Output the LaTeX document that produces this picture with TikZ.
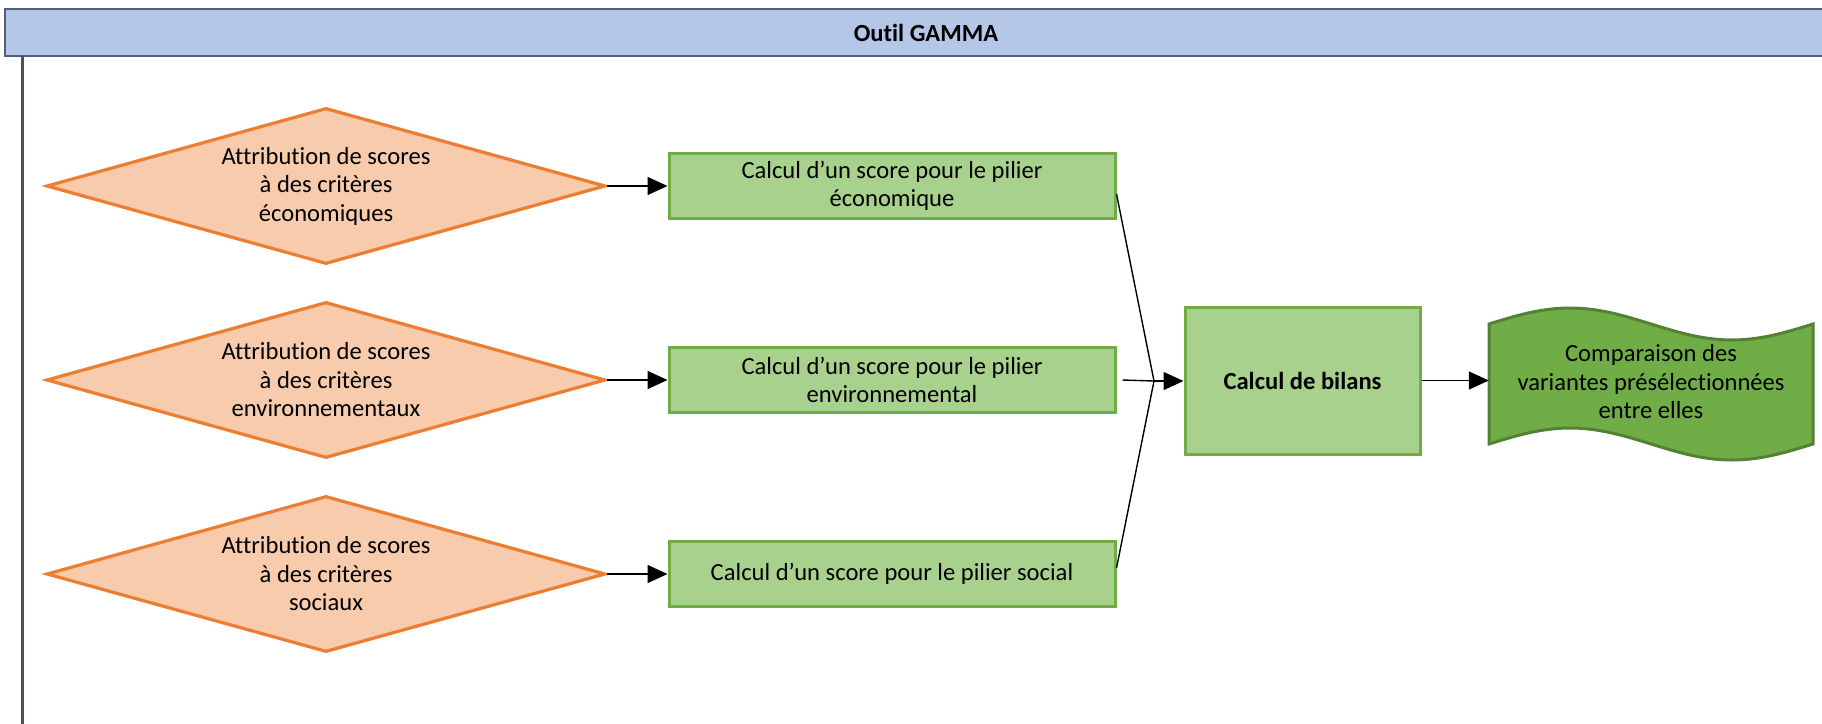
\documentclass[tikz,border=0pt]{standalone}
\usepackage{fontspec}
\setmainfont{Carlito}[Ligatures={NoCommon}]
\usetikzlibrary{shapes.geometric,arrows.meta}
\definecolor{hdrfill}{HTML}{B4C7E7}
\definecolor{hdrdraw}{HTML}{4F5F7F}
\definecolor{lanedraw}{HTML}{44546A}
\definecolor{orfill}{HTML}{F8CBAD}
\definecolor{ordraw}{HTML}{ED7D31}
\definecolor{grfill}{HTML}{A9D18E}
\definecolor{grdraw}{HTML}{70AD47}
\definecolor{dkfill}{HTML}{70AD47}
\definecolor{dkdraw}{HTML}{548235}
\tikzset{
  txt/.style={font=\fontsize{24.6pt}{28.5pt}\selectfont, align=center, text=black},
  crit/.style={txt, diamond, draw=ordraw, fill=orfill, line width=3.2pt, inner sep=0pt,
    shape aspect=3.58, minimum width=559pt, minimum height=156pt},
  pilier/.style={txt, rectangle, draw=grdraw, fill=grfill, line width=3pt,
    minimum width=446pt, minimum height=65pt, inner sep=0pt},
  bilan/.style={txt, rectangle, draw=grdraw, fill=grfill, line width=3pt,
    minimum width=235pt, minimum height=147pt, inner sep=0pt, font=\fontsize{24.6pt}{28.5pt}\selectfont\bfseries},
  conn/.style={line width=1.4pt, black},
  arr/.style={conn, -{Triangle[length=20pt,width=18pt]}},
}
\begin{document}
\begin{tikzpicture}[x=1pt,y=-1pt]
\useasboundingbox (0,0) rectangle (1822,723);
\fill[white] (0,0) rectangle (1822,723);
% header
\draw[fill=hdrfill, draw=hdrdraw, line width=2pt] (5,9) rectangle (1840,56);
\node[txt, font=\fontsize{24.6pt}{28.5pt}\selectfont\bfseries] (hdr) at (926,32.5) {Outil GAMMA};
\draw[lanedraw, line width=3.5pt] (22.5,56) -- (22.5,740);
% diamonds
\node[crit] (d1) at (326,186) {Attribution de scores\\à des critères\\économiques};
\node[crit] (d2) at (326,380) {Attribution de scores\\à des critères\\environnementaux};
\node[crit] (d3) at (326,574) {Attribution de scores\\à des critères\\sociaux};
% piliers
\node[pilier] (b1) at (892,186) {Calcul d’un score pour le pilier\\économique};
\node[pilier] (b2) at (892,380) {Calcul d’un score pour le pilier\\environnemental};
\node[pilier] (b3) at (892,574) {Calcul d’un score pour le pilier social};
% bilans
\node[bilan] (bil) at (1302.5,380.5) {Calcul de bilans};
% tape
\node[txt, minimum width=324pt, minimum height=120pt, inner sep=0pt] (tape) at (1651,384) {};
\draw[fill=dkfill, draw=dkdraw, line width=3pt]
  (1489,324) sin (1570,308) cos (1651,324) sin (1732,340) cos (1813,324)
  -- (1813,444) sin (1732,460) cos (1651,444) sin (1570,428) cos (1489,444) -- cycle;
\node[txt] (tapetxt) at (1651,382) {Comparaison des\\variantes présélectionnées\\entre elles};
% connectors
\draw[arr] (d1.east) -- (b1.west);
\draw[arr] (d2.east) -- (b2.west);
\draw[arr] (d3.east) -- (b3.west);
\coordinate (J) at (1154,381);
\draw[conn] ([yshift=-8pt]b1.east) -- (J);
\draw[conn] ([xshift=6pt]b2.east) -- (J);
\draw[conn] ([yshift=6pt]b3.east) -- (J);
\draw[arr] (J) -- (J -| bil.west);
\draw[arr] (bil.east) -- (bil.east -| tape.west);
\end{tikzpicture}
\end{document}
